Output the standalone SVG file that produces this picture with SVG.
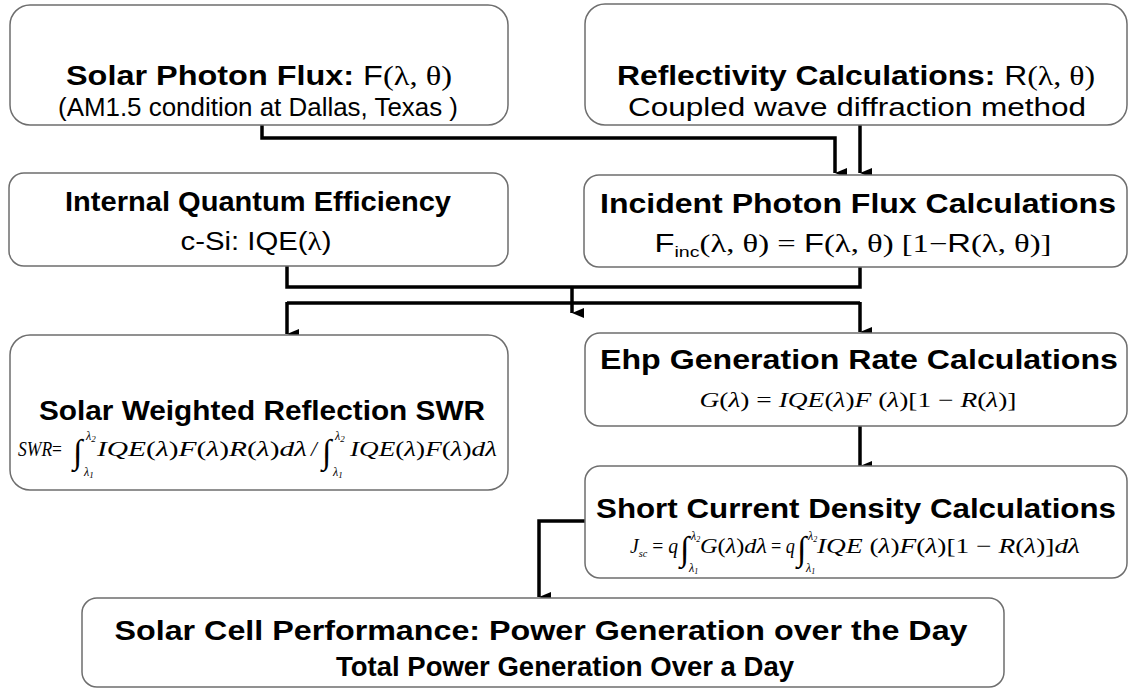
<svg xmlns="http://www.w3.org/2000/svg" width="1135" height="692" viewBox="0 0 1135 692">
  <defs>
    <marker id="arrow" viewBox="0 0 10 12" refX="5" refY="12" markerWidth="10" markerHeight="12" markerUnits="userSpaceOnUse" orient="auto-start-reverse">
      <path d="M0,0 L10,0 L5,12 Z" fill="#000"/>
    </marker>
    <style>
      .box { fill: #fff; stroke: #6e6e6e; stroke-width: 1.5; }
      .wire { fill: none; stroke: #000; stroke-width: 3.5; }
      .arrowed { marker-end: url(#arrow); }
      .hd { font-family: "Liberation Sans", Arial, sans-serif; font-weight: bold; font-size: 27px; fill: #000; }
      .sb { font-family: "Liberation Sans", Arial, sans-serif; font-size: 25px; fill: #000; }
      .tm { font-family: "Liberation Serif", "Times New Roman", serif; }
      .eq { font-family: "Liberation Serif", "Times New Roman", serif; font-style: italic; font-size: 21px; fill: #000; }
      .up { font-family: "Liberation Serif", "Times New Roman", serif; font-style: normal; }
      .lim { font-family: "Liberation Serif", "Times New Roman", serif; font-style: italic; font-size: 12px; fill: #000; }
      .int { font-family: "Liberation Serif", "Times New Roman", serif; font-size: 34px; fill: #000; }
    </style>
  </defs>

  <rect width="1135" height="692" fill="#fff"/>

  <!-- connectors -->
  <g id="connectors">
    <path class="wire arrowed" d="M262,125 V138 H835 V173"/>
    <path class="wire arrowed" d="M860,125 V173"/>
    <path class="wire" d="M287,266 V287 H860 V267"/>
    <path class="wire arrowed" d="M572,287 V313"/>
    <path class="wire" d="M287,303 H860"/>
    <path class="wire arrowed" d="M287,302 V334"/>
    <path class="wire arrowed" d="M860,302 V332"/>
    <path class="wire arrowed" d="M860,426 V466"/>
    <path class="wire arrowed" d="M585,521 H539 V597"/>
  </g>

  <!-- solar photon flux -->
  <g id="solar-flux">
    <rect class="box" x="10" y="5" width="498" height="120" rx="20"/>
    <text class="hd" x="259" y="85" text-anchor="middle" textLength="386" lengthAdjust="spacingAndGlyphs">Solar Photon Flux: <tspan font-weight="normal">F</tspan><tspan class="tm" font-weight="normal">(λ, θ)</tspan></text>
    <text class="sb" x="258" y="116" text-anchor="middle" font-size="24" textLength="400" lengthAdjust="spacingAndGlyphs">(AM1.5 condition at Dallas, Texas )</text>
  </g>

  <!-- reflectivity -->
  <g id="reflectivity">
    <rect class="box" x="585" y="4" width="542" height="121" rx="20"/>
    <text class="hd" x="856" y="85" text-anchor="middle" textLength="478" lengthAdjust="spacingAndGlyphs">Reflectivity Calculations: <tspan font-weight="normal">R</tspan><tspan class="tm" font-weight="normal">(λ, θ)</tspan></text>
    <text class="sb" x="857" y="116" text-anchor="middle" font-size="26" textLength="458" lengthAdjust="spacingAndGlyphs">Coupled wave diffraction method</text>
  </g>

  <!-- internal quantum efficiency -->
  <g id="iqe">
    <rect class="box" x="9" y="173" width="499" height="93" rx="15"/>
    <text class="hd" x="258" y="211" text-anchor="middle" textLength="386" lengthAdjust="spacingAndGlyphs">Internal Quantum Efficiency</text>
    <text class="sb" x="256" y="250" text-anchor="middle" textLength="151" lengthAdjust="spacingAndGlyphs">c-Si: IQE(<tspan class="tm">λ</tspan>)</text>
  </g>

  <!-- incident photon flux -->
  <g id="incident-flux">
    <rect class="box" x="584" y="175" width="543" height="92" rx="15"/>
    <text class="hd" x="858" y="213" text-anchor="middle" textLength="516" lengthAdjust="spacingAndGlyphs">Incident Photon Flux Calculations</text>
    <text class="sb" x="853" y="252" text-anchor="middle" textLength="397" lengthAdjust="spacingAndGlyphs">F<tspan font-size="15" dy="5">inc</tspan><tspan class="tm" dy="-5">(λ, θ) = </tspan>F<tspan class="tm">(λ, θ) [1−</tspan>R<tspan class="tm">(λ, θ)]</tspan></text>
  </g>

  <!-- solar weighted reflection -->
  <g id="swr">
    <rect class="box" x="10" y="335" width="498" height="155" rx="20"/>
    <text class="hd" x="262" y="420" text-anchor="middle" font-size="29" textLength="446" lengthAdjust="spacingAndGlyphs">Solar Weighted Reflection SWR</text>
    <text class="eq" x="18" y="456" textLength="44" lengthAdjust="spacingAndGlyphs">SWR<tspan class="up">=</tspan></text>
    <text class="int" x="73" y="463">∫</text>
    <text class="lim" x="86" y="440">λ<tspan font-size="9" dy="2">2</tspan></text>
    <text class="lim" x="84" y="476">λ<tspan font-size="9" dy="2">1</tspan></text>
    <text class="eq" x="97" y="456" textLength="210" lengthAdjust="spacingAndGlyphs">IQE<tspan class="up">(</tspan>λ<tspan class="up">)</tspan>F<tspan class="up">(</tspan>λ<tspan class="up">)</tspan>R<tspan class="up">(</tspan>λ<tspan class="up">)</tspan>dλ</text>
    <text class="eq" x="311" y="456">/</text>
    <text class="int" x="322" y="463">∫</text>
    <text class="lim" x="335" y="440">λ<tspan font-size="9" dy="2">2</tspan></text>
    <text class="lim" x="333" y="476">λ<tspan font-size="9" dy="2">1</tspan></text>
    <text class="eq" x="350" y="456" textLength="147" lengthAdjust="spacingAndGlyphs">IQE<tspan class="up">(</tspan>λ<tspan class="up">)</tspan>F<tspan class="up">(</tspan>λ<tspan class="up">)</tspan>dλ</text>
  </g>

  <!-- electron-hole pair generation -->
  <g id="ehp">
    <rect class="box" x="585" y="333" width="542" height="93" rx="15"/>
    <text class="hd" x="859" y="369" text-anchor="middle" textLength="518" lengthAdjust="spacingAndGlyphs">Ehp Generation Rate Calculations</text>
    <text class="eq" x="858" y="407" text-anchor="middle" font-size="22" textLength="317" lengthAdjust="spacingAndGlyphs">G<tspan class="up">(</tspan>λ<tspan class="up">) = </tspan>IQE<tspan class="up">(</tspan>λ<tspan class="up">)</tspan>F <tspan class="up">(</tspan>λ<tspan class="up">)[1 − </tspan>R<tspan class="up">(</tspan>λ<tspan class="up">)]</tspan></text>
  </g>

  <!-- short-circuit current density -->
  <g id="jsc">
    <rect class="box" x="585" y="466" width="542" height="112" rx="15"/>
    <text class="hd" x="856" y="518" text-anchor="middle" font-size="28" textLength="520" lengthAdjust="spacingAndGlyphs">Short Current Density Calculations</text>
    <text class="eq" x="630" y="553" font-size="19" textLength="48" lengthAdjust="spacingAndGlyphs">J<tspan font-size="11" dy="4">sc</tspan><tspan class="up" dy="-4"> = </tspan>q</text>
    <text class="int" x="680" y="560" font-size="30">∫</text>
    <text class="lim" x="691" y="540" font-size="11">λ<tspan font-size="8" dy="2">2</tspan></text>
    <text class="lim" x="689" y="572" font-size="11">λ<tspan font-size="8" dy="2">1</tspan></text>
    <text class="eq" x="700" y="553" font-size="19" textLength="67" lengthAdjust="spacingAndGlyphs">G<tspan class="up">(</tspan>λ<tspan class="up">)</tspan>dλ</text>
    <text class="eq" x="771" y="553" font-size="19" textLength="24" lengthAdjust="spacingAndGlyphs"><tspan class="up">=</tspan> q</text>
    <text class="int" x="797" y="560" font-size="30">∫</text>
    <text class="lim" x="808" y="540" font-size="11">λ<tspan font-size="8" dy="2">2</tspan></text>
    <text class="lim" x="806" y="572" font-size="11">λ<tspan font-size="8" dy="2">1</tspan></text>
    <text class="eq" x="817" y="553" font-size="19" textLength="263" lengthAdjust="spacingAndGlyphs">IQE <tspan class="up">(</tspan>λ<tspan class="up">)</tspan>F<tspan class="up">(</tspan>λ<tspan class="up">)[1 − </tspan>R<tspan class="up">(</tspan>λ<tspan class="up">)]</tspan>dλ</text>
  </g>

  <!-- solar cell performance -->
  <g id="performance">
    <rect class="box" x="82" y="598" width="922" height="89" rx="15"/>
    <text class="hd" x="541" y="640" text-anchor="middle" font-size="33" textLength="853" lengthAdjust="spacingAndGlyphs">Solar Cell Performance: Power Generation over the Day</text>
    <text class="hd" x="565" y="676" text-anchor="middle" font-size="33" textLength="458" lengthAdjust="spacingAndGlyphs">Total Power Generation Over a Day</text>
  </g>
</svg>
